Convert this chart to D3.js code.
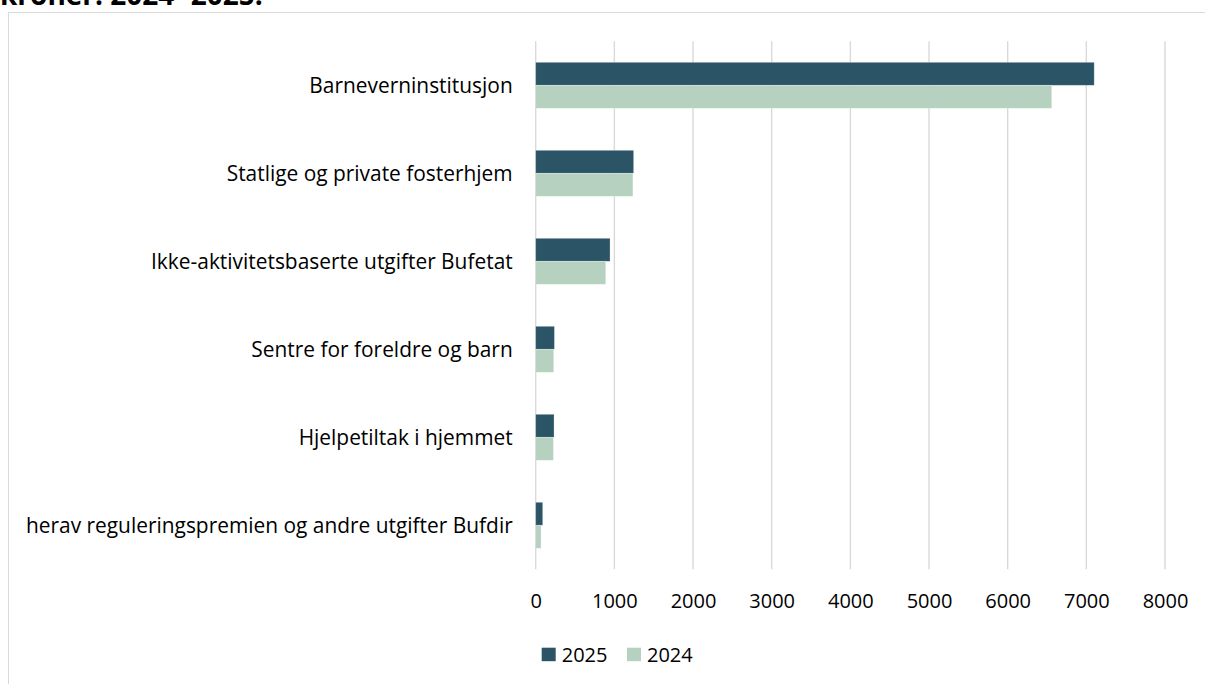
<!DOCTYPE html>
<html>
<head>
<meta charset="utf-8">
<script src="https://cdn.jsdelivr.net/npm/d3@7"></script>
<style>
  html, body { margin: 0; padding: 0; background: #fff; }
  svg { display: block; }
  text { font-family: "Open Sans", "Noto Sans", sans-serif; fill: #000; }
</style>
</head>
<body>
<svg id="chart" width="1205" height="684"></svg>
<script>
// Utgifter per tiltaksområde, mill. kroner
const categories = [
  "Barneverninstitusjon",
  "Statlige og private fosterhjem",
  "Ikke-aktivitetsbaserte utgifter Bufetat",
  "Sentre for foreldre og barn",
  "Hjelpetiltak i hjemmet",
  "herav reguleringspremien og andre utgifter Bufdir"
];
const seriesNames = ["2025", "2024"];
const values2025 = [7100, 1245, 945, 238, 233, 89];
const values2024 = [6560, 1236, 890, 229, 225, 68];
const xTicks = [0, 1000, 2000, 3000, 4000, 5000, 6000, 7000, 8000];
const titleText = "kroner. 2024- 2025.";

const colors = { "2025": "#2b5566", "2024": "#b7d1c0" };

const svg = d3.select("#chart");
const W = 1205, H = 684;
const labelSize = "20.9px";
const tickSize = "20px";

// heading running above the frame
svg.append("text")
  .attr("x", 0).attr("y", 5)
  .style("font-weight", "bold")
  .style("font-size", "28px")
  .text(titleText);

// chart frame
svg.append("rect")
  .attr("x", 8.5).attr("y", 12.5)
  .attr("width", W).attr("height", H)
  .attr("fill", "none")
  .attr("stroke", "#d9d9d9")
  .attr("stroke-width", 1);

const plot = { left: 535.7, right: 1165, top: 41.3, bottom: 569.3 };

const x = d3.scaleLinear().domain([0, 8000]).range([plot.left, plot.right]);
const pad = 42 / 88;
const y = d3.scaleBand().domain(categories)
  .range([plot.top, plot.bottom])
  .paddingInner(pad).paddingOuter(pad / 2);
const ySub = d3.scaleBand().domain(seriesNames).range([0, y.bandwidth()]);

// vertical gridlines
svg.append("g").selectAll("line")
  .data(xTicks)
  .join("line")
  .attr("x1", d => x(d)).attr("x2", d => x(d))
  .attr("y1", plot.top).attr("y2", plot.bottom)
  .attr("stroke", "#d9d9d9")
  .attr("stroke-width", 1.4);

// bars
const rows = categories.map((c, i) => ({ cat: c, vals: [
  { s: "2025", v: values2025[i] },
  { s: "2024", v: values2024[i] }
]}));

svg.append("g").selectAll("g")
  .data(rows)
  .join("g")
  .attr("transform", d => `translate(0,${y(d.cat)})`)
  .selectAll("rect")
  .data(d => d.vals)
  .join("rect")
  .attr("x", x(0))
  .attr("y", d => ySub(d.s))
  .attr("width", d => x(d.v) - x(0))
  .attr("height", ySub.bandwidth())
  .attr("fill", d => colors[d.s])
  .attr("stroke", "rgba(255,255,255,0.35)")
  .attr("stroke-width", 0.75);

// category labels
const yAxis = d3.axisLeft(y).tickSize(0).tickPadding(23);
const gy = svg.append("g").attr("transform", `translate(${plot.left},0)`).call(yAxis);
gy.select(".domain").remove();
gy.selectAll("text").style("font-size", labelSize).attr("dy", "0.35em");

// value axis labels
const xAxis = d3.axisBottom(x).tickValues(xTicks).tickSize(0).tickPadding(0).tickFormat(d3.format("d"));
const gx = svg.append("g").attr("transform", `translate(0,${plot.bottom})`).call(xAxis);
gx.select(".domain").remove();
gx.selectAll("text").style("font-size", tickSize).attr("y", 39.2).attr("dy", "0");

// legend
const legend = svg.append("g").attr("transform", "translate(541.7,647.7)");
const legendOffsets = [0, 85.3];
seriesNames.forEach((s, i) => {
  const g = legend.append("g").attr("transform", `translate(${legendOffsets[i]},0)`);
  g.append("rect").attr("width", 14).attr("height", 13.5).attr("fill", colors[s]);
  g.append("text").attr("x", 20).attr("y", 13.8).style("font-size", tickSize).text(s);
});
</script>
</body>
</html>
